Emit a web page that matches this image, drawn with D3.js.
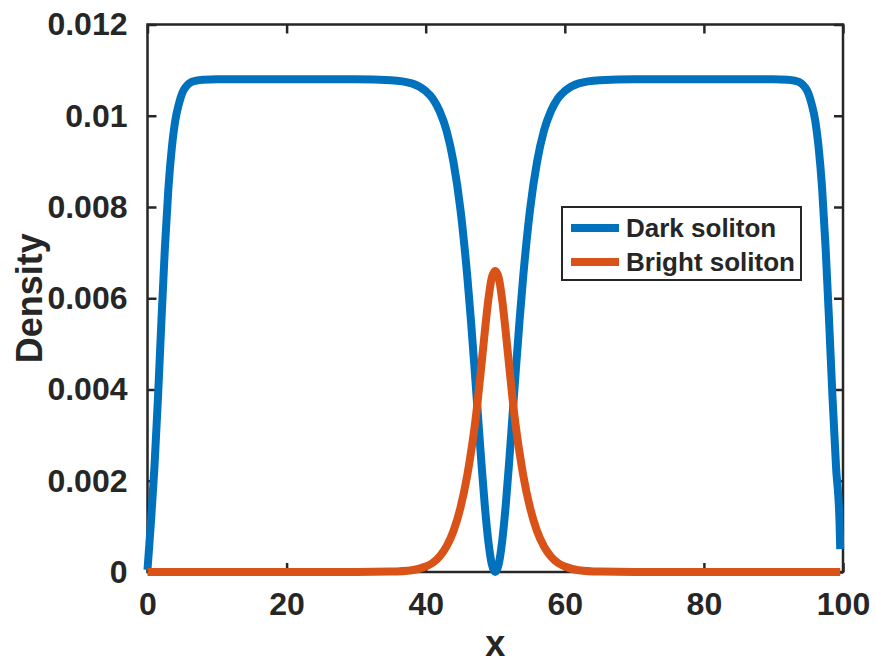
<!DOCTYPE html>
<html>
<head>
<meta charset="utf-8">
<script src="https://cdn.jsdelivr.net/npm/d3@7"></script>
<style>
  html, body { margin: 0; padding: 0; background: #fff; }
  svg { display: block; }
  text { font-family: "Liberation Sans", Arial, Helvetica, sans-serif; font-weight: bold; fill: #262626; }
</style>
</head>
<body>
<svg id="chart" width="876" height="664"></svg>
<script>
// Density profiles of the dark and bright soliton components on x in [0, 100]
const darkX = [0, 0.5, 1, 1.5, 2, 2.5, 3, 3.5, 4, 4.5, 5, 5.5, 6, 7, 8, 10, 20, 30, 35, 38, 40,
  41, 42, 43, 44, 45, 46, 46.5, 47, 47.5, 48, 48.5, 49, 49.5, 50, 50.5, 51, 51.5, 52, 52.5,
  53, 53.5, 54, 55, 56, 57, 58, 59, 60, 62, 65, 70, 80, 90, 92, 93, 94, 94.5, 95, 95.5, 96, 96.5,
  97, 97.5, 98, 98.5, 99, 99.5, 99.6];
const darkY = [0.00005, 0.0011, 0.0023, 0.0038, 0.0055, 0.0071, 0.0084, 0.0093, 0.0099, 0.01025,
  0.0105, 0.01063, 0.01071, 0.01077, 0.01079, 0.0108, 0.0108, 0.0108, 0.01078, 0.01071, 0.01054,
  0.01038, 0.0101, 0.00967, 0.00898, 0.00794, 0.00644, 0.00552, 0.00451, 0.00346, 0.00241,
  0.00145, 0.00068, 0.000175, 0, 0.000175, 0.00068, 0.00145, 0.00241, 0.00346,
  0.00451, 0.00552, 0.00644, 0.00794, 0.00898, 0.00967, 0.0101, 0.01038, 0.01054, 0.01071,
  0.01078, 0.0108, 0.0108, 0.0108, 0.01079, 0.01077, 0.01071, 0.01063, 0.0105, 0.01025, 0.0099,
  0.0093, 0.0084, 0.0071, 0.0055, 0.0038, 0.0023, 0.0011, 0.0005];

const brightX = [0, 10, 20, 30, 35, 38, 40, 41, 42, 43, 44, 45, 46, 46.5, 47, 47.5, 48, 48.5,
  49, 49.5, 50, 50.5, 51, 51.5, 52, 52.5, 53, 53.5, 54, 55, 56, 57, 58, 59, 60, 62, 65, 70,
  80, 90, 99.6];
const brightY = [0, 0, 0, 0, 0.00001, 0.00004, 0.00012, 0.0002, 0.00034, 0.00056, 0.0009,
  0.00141, 0.00214, 0.00261, 0.00314, 0.00378, 0.00452, 0.00527, 0.00596, 0.00645, 0.0066,
  0.00645, 0.00596, 0.00527, 0.00452, 0.00378, 0.00314, 0.00261, 0.00214, 0.00141, 0.0009,
  0.00056, 0.00034, 0.0002, 0.00012, 0.00004, 0.00001, 0, 0, 0, 0];

const xTicks = [0, 20, 40, 60, 80, 100];
const yTicks = [0, 0.002, 0.004, 0.006, 0.008, 0.01, 0.012];
const yTickLabels = ["0", "0.002", "0.004", "0.006", "0.008", "0.01", "0.012"];
const seriesNames = ["Dark soliton", "Bright soliton"];
const seriesColors = ["#0072BD", "#D95319"];

const svg = d3.select("#chart");
const plotL = 147.5, plotR = 843, plotT = 24.5, plotB = 572;
const x = d3.scaleLinear().domain([0, 100]).range([plotL, plotR]);
const y = d3.scaleLinear().domain([0, 0.012]).range([plotB, plotT]);
const axisColor = "#262626";
const tickLen = 9;

// Box axes with inward ticks on all four sides
function styleAxis(g) {
  g.select(".domain").remove();
  g.selectAll(".tick line").attr("stroke", axisColor).attr("stroke-width", 2.5);
  g.selectAll("text").attr("font-size", 32).attr("fill", axisColor)
    .attr("font-family", "'Liberation Sans', Arial, sans-serif").attr("font-weight", "bold");
}

svg.append("g").attr("transform", `translate(0,${plotB})`)
  .call(d3.axisBottom(x).tickValues(xTicks).tickSizeInner(-tickLen).tickSizeOuter(0).tickPadding(20))
  .call(styleAxis);
svg.append("g").attr("transform", `translate(0,${plotT})`)
  .call(d3.axisTop(x).tickValues(xTicks).tickSizeInner(-tickLen).tickSizeOuter(0).tickFormat(""))
  .call(styleAxis);
svg.append("g").attr("transform", `translate(${plotL},0)`)
  .call(d3.axisLeft(y).tickValues(yTicks).tickSizeInner(-tickLen).tickSizeOuter(0).tickPadding(20)
    .tickFormat((d, i) => yTickLabels[i]))
  .call(styleAxis);
svg.append("g").attr("transform", `translate(${plotR},0)`)
  .call(d3.axisRight(y).tickValues(yTicks).tickSizeInner(-tickLen).tickSizeOuter(0).tickFormat(""))
  .call(styleAxis);

svg.append("rect")
  .attr("x", plotL).attr("y", plotT)
  .attr("width", plotR - plotL).attr("height", plotB - plotT)
  .attr("fill", "none").attr("stroke", axisColor).attr("stroke-width", 2.5);

// Density curves
const line = d3.line().x(d => x(d[0])).y(d => y(d[1])).curve(d3.curveMonotoneX);
const series = [
  darkX.map((v, i) => [v, darkY[i]]),
  brightX.map((v, i) => [v, brightY[i]])
];
series.forEach((pts, i) => {
  svg.append("path").datum(pts)
    .attr("d", line)
    .attr("fill", "none")
    .attr("stroke", seriesColors[i])
    .attr("stroke-width", 8)
    .attr("stroke-linejoin", "round");
});

// Axis labels
svg.append("text").attr("x", (plotL + plotR) / 2).attr("y", 656)
  .attr("text-anchor", "middle").attr("font-size", 36).text("x");
svg.append("text")
  .attr("transform", `translate(42,${(plotT + plotB) / 2}) rotate(-90)`)
  .attr("text-anchor", "middle").attr("font-size", 36).text("Density");

// Legend
const lg = svg.append("g");
lg.append("rect").attr("x", 562).attr("y", 207).attr("width", 239).attr("height", 73)
  .attr("fill", "#fff").attr("stroke", axisColor).attr("stroke-width", 2);
seriesNames.forEach((name, i) => {
  const ly = 228 + i * 34;
  lg.append("line").attr("x1", 571).attr("x2", 619).attr("y1", ly).attr("y2", ly)
    .attr("stroke", seriesColors[i]).attr("stroke-width", 8);
  lg.append("text").attr("x", 626).attr("y", ly).attr("dy", "0.35em")
    .attr("font-size", 26).attr("fill", "#000").text(name);
});
</script>
</body>
</html>
